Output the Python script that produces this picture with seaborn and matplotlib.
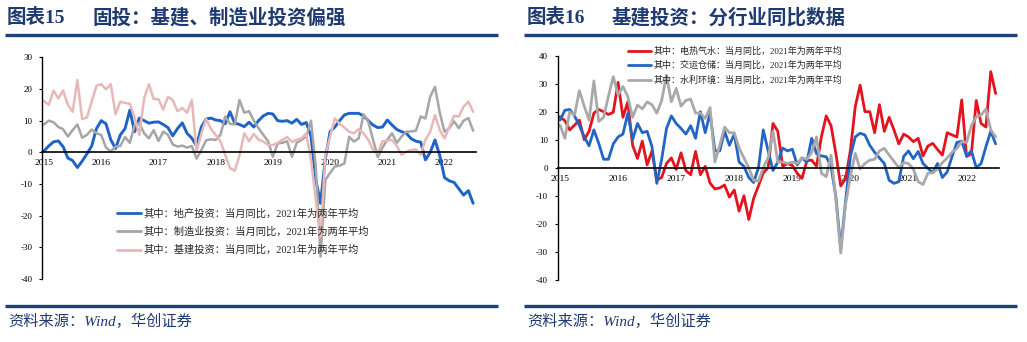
import numpy as np
import pandas as pd
import matplotlib
matplotlib.use("Agg")
import matplotlib.pyplot as plt
import seaborn as sns

sns.set_style("white")
plt.rcParams["font.family"] = ["Liberation Serif", "Noto Sans CJK SC", "DejaVu Sans"]
plt.rcParams["axes.unicode_minus"] = False

# ---- shared x axis: monthly index, 2015-01 .. 2022-07 ----
months = list(range(91))
year_pos = [0, 12, 24, 36, 48, 60, 72, 84]
year_labels = ["2015", "2016", "2017", "2018", "2019", "2020", "2021", "2022"]

# ---- 图表15: 固投分项 (当月同比, %) ----
fai_labels = [
    "其中：地产投资：当月同比，2021年为两年平均",
    "其中：制造业投资：当月同比，2021年为两年平均",
    "其中：基建投资：当月同比，2021年为两年平均",
]
realestate = [
    0.4, 2.0, 3.3, 3.6, 1.8, -1.8, -2.6, -4.8, -2.8, -0.5, 2.0, 7.5,
    10.0, 9.0, 4.0, 1.2, 5.5, 7.5, 13.3, 6.5, 10.8, 10.0, 9.2, 9.5,
    9.6, 8.8, 7.8, 5.2, 7.5, 9.3, 6.0, 4.5, 2.0, 8.0, 10.5, 10.8,
    10.2, 10.0, 9.0, 12.8, 9.2, 8.8, 8.1, 9.5, 8.0, 10.0, 11.5, 12.3,
    12.1, 10.0, 9.8, 10.0, 9.2, 10.4, 8.8, 9.4, 5.0, -8.7, -16.1, -2.0,
    6.5, 8.0, 10.0, 11.8, 12.3, 12.3, 12.3, 11.5, 10.0, 8.6, 7.8, 8.0,
    10.2, 8.6, 7.2, 6.5, 6.0, 4.3, 3.5, 3.2, -2.4, 0.0, 3.9, -1.0,
    -8.0, -9.0, -9.5, -11.5, -13.5, -12.1, -16.1,
]
manufacturing = [
    8.8, 10.0, 9.5, 8.0, 7.3, 5.0, 7.0, 8.8, 4.6, 5.5, 7.2, 6.0,
    5.5, 1.5, 0.3, 1.8, 2.0, 4.8, 3.0, 8.5, 9.2, 6.0, 4.4, 7.0,
    3.6, 6.5, 5.5, 2.5, 1.8, 2.1, 1.5, 2.0, -2.0, 0.7, 3.8, 4.1,
    3.9, 5.5, 11.3, 9.0, 8.8, 16.5, 12.5, 13.0, 10.0, 7.6, 5.5, 3.5,
    -1.4, 2.8, 3.0, 3.5, -1.4, 3.0, 3.9, 5.0, 10.0, -4.5, -32.9, -8.7,
    -6.5, -4.5, -4.2, -3.5, 4.9, 3.4, 4.4, 12.0, 9.7, 4.0, -1.5, 1.5,
    4.0, 6.0, 3.0, 5.0, 6.5, 6.6, 6.8, 11.3, 10.7, 17.6, 20.7, 12.5,
    6.5, 7.6, 9.8, 7.6, 10.0, 10.8, 6.8,
]
infrastructure = [
    16.2, 15.0, 19.5, 17.0, 19.5, 15.0, 12.8, 22.8, 10.5, 11.0, 16.0, 21.0,
    21.5, 19.9, 21.5, 12.0, 16.0, 15.6, 15.3, 11.0, 5.5, 17.0, 21.5, 16.8,
    16.8, 13.5, 17.5, 16.5, 13.0, 14.0, 12.5, 16.5, 0.2, 6.0, 10.5, 7.5,
    5.5, 3.5, -0.8, -5.0, -5.8, -1.0, 6.0, 3.5, 5.8, 4.0, 3.4, 2.3,
    2.3, 3.0, 4.0, 4.8, 3.3, 4.0, 4.4, 6.0, -2.5, -15.0, -26.6, -1.0,
    5.0, 10.7, 9.0, 7.8, 6.5, 6.0, 7.3, 6.0, 4.0, 0.8, -0.3, 3.5,
    3.7, 3.9, 2.0, -0.8, 0.2, 0.7, 0.9, -0.8, 4.0, 6.5, 11.8, 7.0,
    4.4, 8.0, 11.5, 11.3, 14.4, 16.0, 12.8,
]

# ---- 图表16: 基建分行业 (当月同比, %) ----
infra_labels = [
    "其中：电热气水：当月同比，2021年为两年平均",
    "其中：交运仓储：当月同比，2021年为两年平均",
    "其中：水利环境：当月同比，2021年为两年平均",
]
utilities = [
    18.2, 16.8, 13.5, 15.2, 17.0, 10.0, 13.0, 19.5, 20.8, 20.0, 19.0, 19.8,
    30.5, 18.0, 23.5, 8.0, 3.3, 9.5, 1.0, 6.0, -4.4, -3.5, 1.5, 3.5,
    -0.6, 5.3, -1.0, -2.5, 5.8, -2.5, 0.5, -5.5, -7.6, -7.2, -6.2, -10.5,
    -8.0, -15.5, -10.0, -18.5, -11.0, -6.5, -1.8, 0.0, 15.8, 13.0, 0.5, 1.5,
    0.8, -2.0, -3.8, 2.5, 2.7, 0.5, 11.0, 18.5, 15.0, 5.0, -6.5, -4.0,
    6.3, 21.8, 29.5, 20.0, 20.0, 12.5, 22.5, 13.0, 18.0, 13.5, 8.5, 12.0,
    11.0, 9.3, 10.5, 4.2, 7.7, 8.7, 6.5, 4.5, 12.5, 11.7, 11.0, 24.2,
    4.0, 5.0, 24.0, 15.8, 14.5, 34.3, 26.5,
]
transport = [
    17.0, 20.5, 20.8, 18.5, 15.0, 11.0, 7.8, 13.5, 8.7, 3.0, 3.0, 8.5,
    11.0, 12.0, 19.4, 10.0, 15.8, 12.5, 13.0, 7.5, -5.6, 3.0, 14.0, 18.5,
    15.8, 14.0, 12.0, 15.0, 10.5, 20.0, 12.5, 19.5, 6.0, 6.0, 13.0, 8.0,
    12.0, 2.0, 0.5, -3.5, -5.3, 0.0, 13.5, 6.0, -1.0, 2.0, 7.0, 6.0,
    6.6, 1.0, 3.5, 2.0, 10.5, 5.0, 4.2, 3.9, 0.4, -10.4, -29.0, -12.0,
    4.0, 11.0, 12.3, 11.7, 8.0, 5.5, 3.5, 1.5, -4.5, -5.6, -5.0, 4.0,
    6.0, 3.2, 5.8, 1.5, -0.2, -1.8, 1.5, -3.5, -1.5, 4.0, 9.0, 9.5,
    4.2, 6.0, 0.0, 1.5, 7.5, 13.0, 8.5,
]
water_env = [
    15.2, 10.5, 20.0, 18.8, 27.5, 22.0, 17.0, 31.0, 16.5, 18.0, 25.5, 32.5,
    26.0, 29.0, 25.4, 18.0, 22.4, 21.0, 23.5, 22.5, 19.5, 24.0, 33.0, 23.5,
    28.3, 22.0, 24.0, 24.5, 19.5, 19.5, 17.6, 21.5, 2.0, 8.0, 14.5, 12.5,
    12.5, 7.0, 3.5, 0.0, -4.5, -4.8, 0.0, 3.5, 13.0, 2.0, 2.0, 1.5,
    2.0, 1.5, 3.5, 3.0, 5.5, 11.0, -2.0, -3.2, 4.5, -11.5, -30.5, -13.0,
    -3.0, 5.1, -0.5, 1.5, 2.7, 3.0, 6.0, 6.9, 4.5, 2.3, 0.0, 1.8,
    1.5, -0.5, -5.0, -6.0, -2.0, -1.8, -0.5, 1.8, 3.5, 5.5, 6.9, 9.3,
    9.0, 15.0, 18.2, 18.8, 21.0, 13.5, 11.0,
]

NAVY = "#1F3A70"
CJK_SERIF = ["Liberation Serif", "Noto Sans CJK SC"]

fig = plt.figure(figsize=(10.27, 3.42), dpi=100)
W, H = 1027, 342


def fx(px):
    return px / W


def fy(py):
    return 1 - py / H


def style_axes(ax, ylim, yticks, xlim, xlabel_pad):
    ax.set_ylim(*ylim)
    ax.set_xlim(*xlim)
    ax.set_yticks(yticks)
    ax.set_yticklabels([str(v) for v in yticks])
    ax.set_xticks(year_pos)
    ax.set_xticklabels(year_labels)
    ax.set_xlabel("")
    ax.set_ylabel("")
    for s in ("top", "right"):
        ax.spines[s].set_visible(False)
    ax.spines["left"].set_color("black")
    ax.spines["left"].set_linewidth(1.0)
    ax.spines["bottom"].set_position(("data", 0))
    ax.spines["bottom"].set_color("black")
    ax.spines["bottom"].set_linewidth(1.2)
    ax.tick_params(axis="y", direction="out", length=2.5, width=0.8,
                   pad=4.5, labelsize=6.5, colors="black", left=True)
    ax.tick_params(axis="x", length=0, pad=xlabel_pad, labelsize=6.8,
                   colors="black")
    ax.grid(False)
    ax.set_facecolor("white")


# ---------- left panel ----------
axL = fig.add_axes([fx(42), fy(279), fx(476 - 42), (279 - 57.3) / H])
for vals, lab, col, lw in zip(
    [realestate, manufacturing, infrastructure], fai_labels,
    ["#1F63C6", "#A6A6A6", "#E6B9B8"], [2.1, 1.8, 1.8]):
    sns.lineplot(x=months, y=vals, ax=axL, color=col, linewidth=lw,
                 label=lab, solid_joinstyle="round", solid_capstyle="round")
style_axes(axL, (-40, 30), [30, 20, 10, 0, -10, -20, -30, -40],
           (-0.42, 90.6), 5)
legL = axL.legend(loc="center left", bbox_to_anchor=(0.1728, 0.2133),
                  frameon=False, borderpad=0, borderaxespad=0,
                  handlelength=2.3, handletextpad=0.25, labelspacing=0.78,
                  prop={"family": CJK_SERIF, "size": 7.4})
for line in legL.get_lines():
    line.set_linewidth(2.0)

# ---------- right panel ----------
axR = fig.add_axes([fx(557.7), fy(279.7), fx(999 - 557.7), (279.7 - 55.7) / H])
for vals, lab, col, lw in zip(
    [utilities, transport, water_env], infra_labels,
    ["#E3141E", "#2265C5", "#A9A9A9"], [2.0, 2.0, 2.0]):
    sns.lineplot(x=months, y=vals, ax=axR, color=col, linewidth=lw,
                 label=lab, solid_joinstyle="round", solid_capstyle="round")
style_axes(axR, (-40, 40), [40, 30, 20, 10, 0, -10, -20, -30, -40],
           (-0.48, 90.7), 5.5)
legR = axR.legend(loc="center left", bbox_to_anchor=(0.1593, 0.955),
                  frameon=False, borderpad=0, borderaxespad=0,
                  handlelength=2.6, handletextpad=0.25, labelspacing=0.58,
                  prop={"family": CJK_SERIF, "size": 6.5})
for line in legR.get_lines():
    line.set_linewidth(2.0)

# ---------- titles, rules and source notes ----------
title_font = {"family": CJK_SERIF, "size": 14, "weight": "bold", "color": NAVY}
fig.text(fx(7), fy(17.5), "图表15", va="center", ha="left", **title_font)
fig.text(fx(93), fy(17.5), "固投：基建、制造业投资偏强", va="center", ha="left",
         **title_font)
fig.text(fx(527), fy(17.5), "图表16", va="center", ha="left", **title_font)
fig.text(fx(611.7), fy(17.5), "基建投资：分行业同比数据", va="center", ha="left",
         **title_font)

for x0, x1 in [(5, 498), (524, 1017)]:
    for yy in (34.7, 306.2):
        fig.add_artist(plt.Line2D([fx(x0), fx(x1)], [fy(yy), fy(yy)],
                                  color="#203F7C", linewidth=2.4,
                                  solid_capstyle="butt"))

src_font = {"family": CJK_SERIF, "size": 11, "style": "italic", "color": NAVY}
fig.text(fx(8), fy(321.7), "资料来源：Wind，华创证券", va="center", ha="left",
         **src_font)
fig.text(fx(527.7), fy(321.7), "资料来源：Wind，华创证券", va="center", ha="left",
         **src_font)

fig.savefig("out.png", dpi=100, facecolor="white")
